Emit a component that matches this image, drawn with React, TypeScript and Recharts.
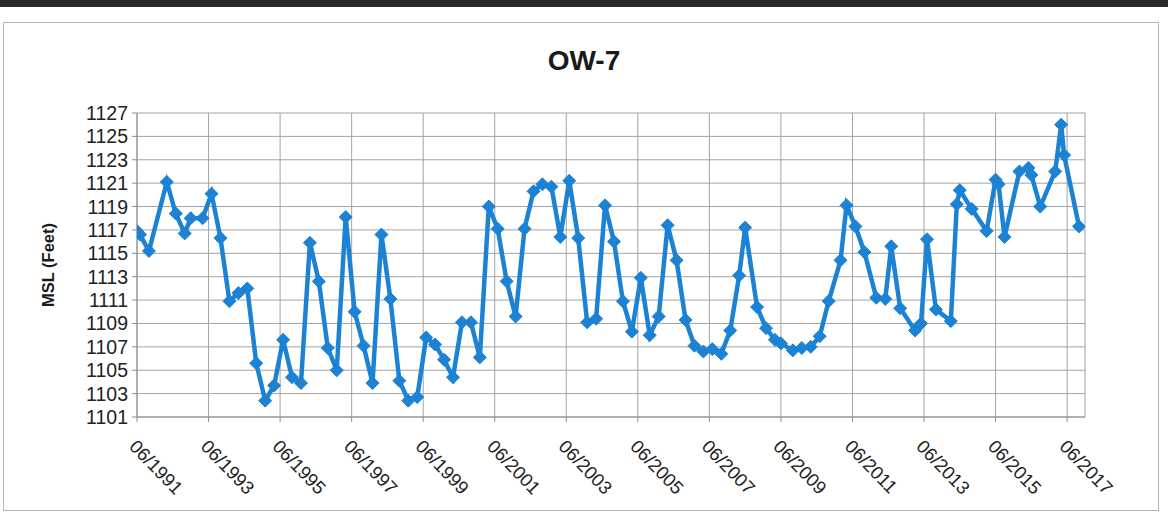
import React from "react";
import { LineChart, Line, XAxis, YAxis, CartesianGrid } from "recharts";

const sampleDates: string[] = [
  "06/1991", "07/1991", "10/1991", "04/1992", "07/1992", "10/1992", "12/1992", "04/1993",
  "07/1993", "10/1993", "01/1994", "04/1994", "07/1994", "10/1994", "01/1995", "04/1995",
  "07/1995", "10/1995", "01/1996", "04/1996", "07/1996", "10/1996", "01/1997", "04/1997",
  "07/1997", "10/1997", "01/1998", "04/1998", "07/1998", "10/1998", "01/1999", "04/1999",
  "07/1999", "10/1999", "01/2000", "04/2000", "07/2000", "10/2000", "01/2001", "04/2001",
  "07/2001", "10/2001", "01/2002", "04/2002", "07/2002", "10/2002", "01/2003", "04/2003",
  "07/2003", "10/2003", "01/2004", "04/2004", "07/2004", "10/2004", "01/2005", "04/2005",
  "07/2005", "10/2005", "01/2006", "04/2006", "07/2006", "10/2006", "01/2007", "04/2007",
  "07/2007", "10/2007", "01/2008", "04/2008", "06/2008", "10/2008", "01/2009", "04/2009",
  "06/2009", "10/2009", "01/2010", "04/2010", "07/2010", "10/2010", "02/2011", "04/2011",
  "07/2011", "10/2011", "02/2012", "05/2012", "07/2012", "10/2012", "03/2013", "05/2013",
  "07/2013", "10/2013", "03/2014", "05/2014", "06/2014", "10/2014", "03/2015", "06/2015",
  "07/2015", "09/2015", "02/2016", "05/2016", "06/2016", "09/2016", "02/2017", "04/2017",
  "05/2017", "10/2017",
];

const levelFeet: number[] = [
  1116.9, 1116.6, 1115.2, 1121.1, 1118.4, 1116.7, 1118.0, 1118.0,
  1120.1, 1116.3, 1110.9, 1111.6, 1112.0, 1105.6, 1102.4, 1103.7,
  1107.6, 1104.4, 1103.9, 1115.9, 1112.6, 1106.9, 1105.0, 1118.1,
  1110.0, 1107.1, 1103.9, 1116.6, 1111.1, 1104.1, 1102.4, 1102.7,
  1107.8, 1107.2, 1105.9, 1104.4, 1109.1, 1109.1, 1106.1, 1119.0,
  1117.1, 1112.6, 1109.6, 1117.1, 1120.3, 1120.9, 1120.7, 1116.4,
  1121.2, 1116.3, 1109.1, 1109.4, 1119.1, 1116.0, 1110.9, 1108.3,
  1112.9, 1108.0, 1109.6, 1117.4, 1114.4, 1109.3, 1107.1, 1106.6,
  1106.8, 1106.4, 1108.4, 1113.1, 1117.2, 1110.4, 1108.6, 1107.6,
  1107.3, 1106.7, 1106.9, 1107.0, 1107.9, 1110.9, 1114.4, 1119.1,
  1117.3, 1115.1, 1111.2, 1111.1, 1115.6, 1110.3, 1108.4, 1109.0,
  1116.2, 1110.2, 1109.2, 1119.2, 1120.4, 1118.8, 1116.9, 1121.3,
  1120.9, 1116.4, 1122.0, 1122.3, 1121.7, 1119.0, 1122.0, 1126.0,
  1123.4, 1117.3,
];

const xTickLabels: string[] = [
  "06/1991", "06/1993", "06/1995", "06/1997", "06/1999", "06/2001", "06/2003",
  "06/2005", "06/2007", "06/2009", "06/2011", "06/2013", "06/2015", "06/2017",
];

const yTicks: number[] = [1101, 1103, 1105, 1107, 1109, 1111, 1113, 1115, 1117, 1119, 1121, 1123, 1125, 1127];

const toMonthIndex = (s: string): number => {
  const [mm, yyyy] = s.split("/").map(Number);
  return (yyyy - 1991) * 12 + (mm - 6);
};

const data = sampleDates.map((d, i) => ({ t: toMonthIndex(d), level: levelFeet[i] }));
const xTicks = xTickLabels.map(toMonthIndex);
const tickLabelFor = (v: number): string => {
  const idx = xTicks.indexOf(v);
  return idx >= 0 ? xTickLabels[idx] : "";
};

const FONT = "'Liberation Sans', Arial, sans-serif";
const BLUE = "#1c82d3";

const Diamond = (props: any) => {
  const { cx, cy } = props;
  if (cx == null || cy == null) return null;
  const r = 6.5;
  return (
    <polygon
      points={`${cx},${cy - r} ${cx + r},${cy} ${cx},${cy + r} ${cx - r},${cy}`}
      fill={BLUE}
      stroke={BLUE}
      strokeWidth={1}
    />
  );
};

const XTick = (props: any) => {
  const { x, y, payload } = props;
  return (
    <g transform={`translate(${x - 4},${y + 19})`}>
      <text
        transform="rotate(46)"
        textAnchor="start"
        dominantBaseline="central"
        fontSize={18.5}
        fontFamily={FONT}
        fill="#222"
      >
        {tickLabelFor(payload.value)}
      </text>
    </g>
  );
};

const YTick = (props: any) => {
  const { x, y, payload } = props;
  return (
    <text
      x={x - 2}
      y={y}
      textAnchor="end"
      dominantBaseline="central"
      fontSize={19.5}
      fontFamily={FONT}
      fill="#222"
    >
      {payload.value}
    </text>
  );
};

export default function App() {
  return (
    <div style={{ position: "absolute", left: 0, top: 0, width: 1168, height: 515, background: "#fff", overflow: "hidden" }}>
      <div style={{ position: "absolute", left: 0, top: 0, width: 1168, height: 7, background: "#2a2a2a" }} />
      <div
        style={{
          position: "absolute",
          left: 3,
          top: 22,
          width: 1156,
          height: 489,
          border: "1px solid #b5b5b5",
          boxSizing: "border-box",
        }}
      />
      <div
        style={{
          position: "absolute",
          left: 0,
          width: 1168,
          top: 45,
          textAlign: "center",
          fontFamily: FONT,
          fontWeight: "bold",
          fontSize: 28,
          color: "#1a1a1a",
        }}
      >
        OW-7
      </div>
      <div
        style={{
          position: "absolute",
          left: 48,
          top: 265,
          transform: "translate(-50%, -50%) rotate(-90deg)",
          fontFamily: FONT,
          fontWeight: "bold",
          fontSize: 16.5,
          color: "#1a1a1a",
          whiteSpace: "nowrap",
        }}
      >
        MSL (Feet)
      </div>
      <div style={{ position: "absolute", left: 0, top: 0 }}>
        <LineChart
          width={1168}
          height={515}
          data={data}
          margin={{ top: 113, right: 83, bottom: 38, left: 77 }}
        >
          <CartesianGrid stroke="#a3a3a3" strokeWidth={1} />
          <XAxis
            dataKey="t"
            type="number"
            domain={[0, 318]}
            ticks={xTicks}
            interval={0}
            height={60}
            stroke="#8f8f8f"
            tickLine={{ stroke: "#8f8f8f" }}
            tickSize={5}
            tick={<XTick />}
            allowDataOverflow
          />
          <YAxis
            type="number"
            domain={[1101, 1127]}
            ticks={yTicks}
            interval={0}
            width={60}
            stroke="#8f8f8f"
            tickLine={{ stroke: "#8f8f8f" }}
            tickSize={5}
            tick={<YTick />}
            allowDataOverflow
          />
          <Line
            type="linear"
            dataKey="level"
            stroke={BLUE}
            strokeWidth={4.5}
            dot={<Diamond />}
            activeDot={false}
            isAnimationActive={false}
          />
        </LineChart>
      </div>
    </div>
  );
}
